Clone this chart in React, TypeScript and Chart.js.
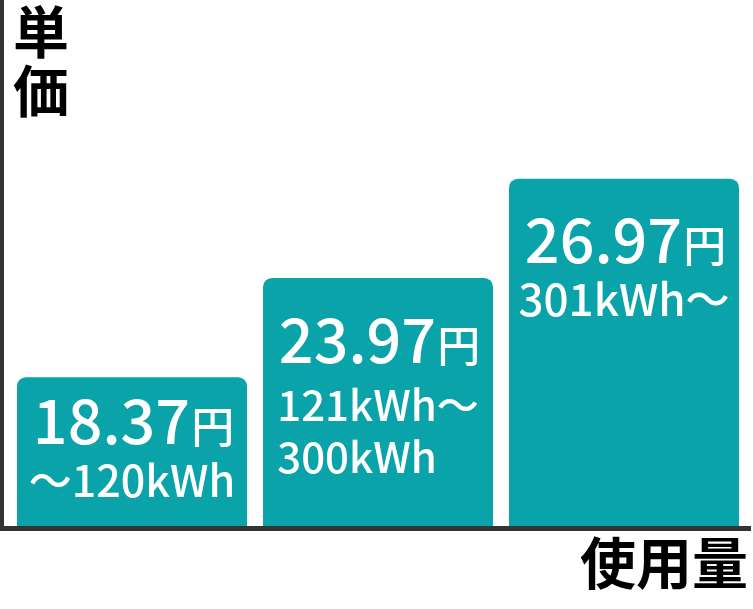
import { useEffect, useRef } from "react";
import { Chart, registerables, Plugin } from "chart.js";

Chart.register(...registerables);

// 料金段階（電気料金の三段階）
const categories = ["第1段階", "第2段階", "第3段階"];
const barLevels = [1.5, 2.5, 3.5];
const priceLabels = ["18.37", "23.97", "26.97"];
const rangeLines = [["〜120kWh"], ["121kWh〜", "300kWh"], ["301kWh〜"]];
const yTitle = ["単", "価"];
const xTitle = "使用量";

const TEAL = "#0aa3aa";
const AXIS = "#333333";
const FONT = "'Noto Sans CJK JP', 'Noto Sans', sans-serif";

// text sizing / placement (px from the bar top)
const priceSize = 61;
const yenSize = 43;
const rangeSize = [43, 42, 44];
const priceOffset = [67, 85, 84];
const rangeOffset = [120, 143, 137];
const rangeGap = 52;

const labelsPlugin: Plugin<"bar"> = {
  id: "stepLabels",
  afterDatasetsDraw(chart) {
    const ctx = chart.ctx;
    const meta = chart.getDatasetMeta(0);
    ctx.save();
    ctx.fillStyle = "#ffffff";
    ctx.textBaseline = "alphabetic";
    ctx.textAlign = "left";
    meta.data.forEach((bar: any, i: number) => {
      const cx = bar.x;
      const top = bar.y;

      // price + 円
      ctx.font = `500 ${priceSize}px ${FONT}`;
      const pw = ctx.measureText(priceLabels[i]).width;
      ctx.font = `500 ${yenSize}px ${FONT}`;
      const yw = ctx.measureText("円").width;
      const x = cx - (pw + yw) / 2 + 1;
      ctx.font = `500 ${priceSize}px ${FONT}`;
      ctx.fillText(priceLabels[i], x, top + priceOffset[i]);
      ctx.font = `500 ${yenSize}px ${FONT}`;
      ctx.fillText("円", x + pw + 1, top + priceOffset[i] - 1);

      // usage range lines, left-aligned as a centred block
      ctx.font = `500 ${rangeSize[i]}px ${FONT}`;
      const lines = rangeLines[i];
      const maxW = Math.max(...lines.map((l) => ctx.measureText(l).width));
      const left = cx - maxW / 2;
      lines.forEach((l, j) => {
        ctx.fillText(l, left, top + rangeOffset[i] + j * rangeGap);
      });
    });
    ctx.restore();
  },
  afterDraw(chart) {
    const ctx = chart.ctx;
    const area = chart.chartArea;
    const w = chart.width;
    ctx.save();
    ctx.fillStyle = AXIS;
    // axes
    ctx.fillRect(0, 0, 4, area.bottom + 5);
    ctx.fillRect(3, area.bottom, w - 5, 5);

    // axis titles
    ctx.fillStyle = "#000000";
    ctx.font = `700 56px ${FONT}`;
    ctx.textAlign = "center";
    ctx.textBaseline = "middle";
    yTitle.forEach((ch, j) => ctx.fillText(ch, 41, 32 + j * 59));
    ctx.textAlign = "right";
    ctx.fillText(xTitle, 748, 563);
    ctx.restore();
  },
};

export default function App() {
  const canvasRef = useRef<HTMLCanvasElement>(null);

  useEffect(() => {
    if (!canvasRef.current) return;
    const chart = new Chart(canvasRef.current, {
      type: "bar",
      data: {
        labels: categories,
        datasets: [
          {
            data: barLevels,
            backgroundColor: TEAL,
            borderRadius: { topLeft: 9, topRight: 9, bottomLeft: 0, bottomRight: 0 },
            borderSkipped: false,
            categoryPercentage: 1,
            barPercentage: 0.935,
          },
        ],
      },
      options: {
        animation: false,
        responsive: true,
        maintainAspectRatio: false,
        layout: { padding: { left: 9, right: 6, top: 0, bottom: 83 } },
        plugins: {
          legend: { display: false },
          tooltip: { enabled: false },
        },
        scales: {
          x: { display: false },
          y: { display: false, min: 0, max: 5.3 },
        },
      },
      plugins: [labelsPlugin],
    });
    return () => chart.destroy();
  }, []);

  return (
    <div style={{ position: "absolute", left: 0, top: 0, width: 753, height: 609, background: "#fff" }}>
      <canvas ref={canvasRef} />
    </div>
  );
}
